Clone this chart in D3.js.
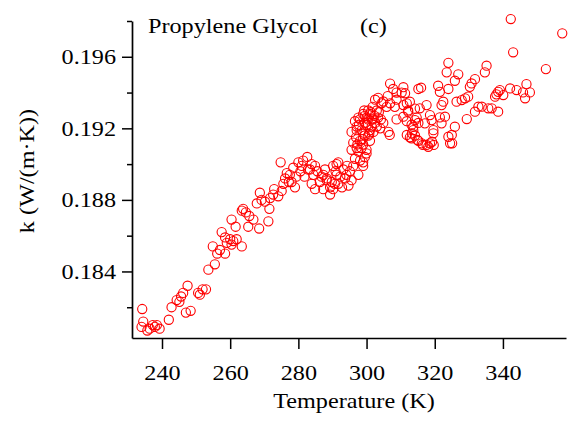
<!DOCTYPE html>
<html><head><meta charset="utf-8">
<script src="https://cdn.jsdelivr.net/npm/d3@7/dist/d3.min.js"></script>
<style>
body{margin:0;background:#fff}
svg{display:block;background:#fff}
</style>
</head><body>
<svg id="chart" width="573" height="423"></svg>
<script>
// ---- data (temperature in K, thermal conductivity in W/(m·K)) ----
const temperature = [
234.2,234.5,234.0,235.7,237.3,237.9,239.3,236.4,238.5,242.0,242.8,244.3,245.1,245.6,246.2,247.5,247.0,248.4,
250.6,251.1,251.9,252.9,253.6,255.5,256.2,254.9,257.0,258.5,
257.5,258.5,260.0,260.9,259.0,261.9,263.4,260.4,260.4,261.6,263.4,263.8,264.6,265.6,265.3,266.8,268.5,271.2,
267.8,268.7,269.2,270.2,271.5,271.7,272.6,272.9,274.1,275.1,274.8,275.6,276.1,276.6,277.5,278.0,279.0,278.5,
280.0,281.0,281.4,282.6,283.9,284.9,283.4,284.4,283.9,284.9,286.3,287.8,288.3,289.3,287.3,290.2,290.7,291.2,
287.3,288.3,289.3,291.7,291.2,290.2,291.7,293.2,293.7,294.7,295.6,295.1,296.1,296.6,299.0,299.0,297.6,296.1,
298.1,297.1,298.1,299.5,301.0,300.0,301.5,302.0,303.0,302.5,303.4,304.9,305.9,306.9,308.8,310.3,310.8,312.2,
311.8,313.2,314.7,314.2,306.4,304.0,304.9,300.5,299.0,301.0,300.0,298.5,299.5,297.6,315.2,314.2,
296.6,297.1,295.6,297.6,299.0,300.5,300.0,301.5,302.5,303.4,303.0,301.0,299.5,297.1,295.6,299.0,300.0,298.1,
304.4,306.2,306.9,307.8,310.8,308.8,308.3,311.8,308.8,312.7,313.7,315.2,315.2,
343.0,342.3,357.4,352.6,324.0,323.5,326.9,325.9,335.2,334.7,331.8,330.8,330.3,324.0,321.0,321.5,316.0,311.3,
312.7,312.2,310.8,314.2,313.7,311.8,313.2,315.6,317.6,318.6,319.1,317.1,319.6,319.6,316.2,317.6,318.6,322.0,
321.5,323.0,322.0,322.5,325.9,325.0,324.5,326.4,327.9,328.9,329.8,329.4,331.8,332.8,333.8,335.7,336.7,338.6,
337.7,338.6,340.1,342.1,344.0,339.1,346.9,347.9,345.9,346.5,338.1,
313.3,314.9,316.5,318.1,319.2,319.7,324.0,325.1,306.8,
297.8,298.6,299.6,300.4,301.2,302.3,298.9,300.8,302.0,296.9,299.3,301.8,297.3,303.6,304.2,
289.8,292.3,294.1,290.9,292.8,294.3,286.8,285.6,282.8,281.8,280.6,279.4,277.2
];
const conductivity = [
0.1819,0.1812,0.1809,0.1807,0.1810,0.1809,0.1808,0.1808,0.1810,0.1813,0.1820,0.1824,0.1823,0.1826,0.1828,0.1832,0.1817,0.1818,
0.1828,0.1827,0.1830,0.1830,0.1841,0.1844,0.1850,0.1854,0.1852,0.1850,
0.1862,0.1859,0.1858,0.1857,0.1856,0.1858,0.1854,0.1855,0.1869,0.1865,0.1874,0.1875,0.1873,0.1871,0.1865,0.1869,0.1864,0.1868,
0.1878,0.1884,0.1880,0.1879,0.1875,0.1881,0.1883,0.1886,0.1882,0.1885,0.1901,0.1889,0.1892,0.1895,0.1894,0.1890,0.1887,0.1898,
0.1901,0.1899,0.1902,0.1904,0.1900,0.1899,0.1897,0.1894,0.1889,0.1886,0.1890,0.1897,0.1892,0.1883,0.1886,0.1886,0.1889,0.1900,
0.1894,0.1891,0.1887,0.1889,0.1894,0.1899,0.1901,0.1897,0.1892,0.1888,0.1891,0.1896,0.1899,0.1903,0.1899,0.1901,0.1907,0.1912,
0.1913,0.1919,0.1925,0.1927,0.1928,0.1922,0.1921,0.1925,0.1930,0.1936,0.1937,0.1935,0.1932,0.1934,0.1936,0.1940,0.1933,0.1930,
0.1924,0.1922,0.1926,0.1931,0.1918,0.1920,0.1923,0.1916,0.1917,0.1913,0.1908,0.1909,0.1904,0.1894,0.1913,0.1916,
0.1924,0.1921,0.1918,0.1926,0.1928,0.1930,0.1926,0.1925,0.1923,0.1926,0.1921,0.1919,0.1916,0.1909,0.1908,0.1911,0.1906,0.1902,
0.1934,0.1938,0.1945,0.1942,0.1943,0.1940,0.1932,0.1934,0.1925,0.1915,0.1919,0.1923,0.1942,
0.19625,0.19811,0.19731,0.19531,0.19566,0.19513,0.19502,0.19466,0.1955,0.19513,0.19475,0.19451,0.19432,0.1942,0.19438,0.19404,0.19427,0.19396,
0.19349,0.19293,0.19265,0.19246,0.19209,0.19163,0.19144,0.19312,0.1933,0.19274,0.19246,0.19228,0.1919,0.19172,0.19116,0.19107,0.19116,0.19228,
0.19261,0.19265,0.1933,0.19349,0.19209,0.19163,0.19116,0.19349,0.19358,0.19368,0.19377,0.19252,0.19293,0.19321,0.19321,0.19312,0.19312,0.19293,
0.19377,0.19404,0.19386,0.19423,0.19414,0.19414,0.19447,0.19401,0.19401,0.19368,0.1939,
0.19172,0.19135,0.19107,0.19097,0.19125,0.19107,0.19153,0.19116,0.19163,
0.1922,0.1919,0.1923,0.1925,0.1929,0.1927,0.1914,0.1917,0.1918,0.1915,0.1930,0.1932,0.1911,0.1929,0.1925,
0.1890,0.1893,0.1894,0.1896,0.1887,0.1899,0.1893,0.1896,0.1897,0.1893,0.1896,0.1893,0.1890
];
const xTickValues = [240, 260, 280, 300, 320, 340];
const yMajorTicks = [0.184, 0.188, 0.192, 0.196];
const yMinorTicks = [0.182, 0.186, 0.190, 0.194, 0.198];
const titleText = "Propylene Glycol";
const panelText = "(c)";
const xLabelText = "Temperature (K)";
const yLabelText = "k (W/(m\u00B7K))";

// ---- drawing ----
const FONT = "'Liberation Serif','Times New Roman',Times,serif";
const FS = 22;
const STRETCH = 1.1;
const svg = d3.select("#chart");
const x = d3.scaleLinear().domain([231.2, 358.5]).range([132, 566]);
const y = d3.scaleLinear().domain([0.18028, 0.198]).range([338, 21]);

function stretch(sel) {
  sel.each(function () {
    const L = this.getComputedTextLength();
    d3.select(this).attr("textLength", L * STRETCH).attr("lengthAdjust", "spacingAndGlyphs");
  });
}

const pts = temperature.map((t, i) => ({ t, k: conductivity[i] }));
svg.append("g")
  .selectAll("circle")
  .data(pts)
  .join("circle")
  .attr("cx", d => x(d.t))
  .attr("cy", d => y(d.k))
  .attr("r", 4.6)
  .attr("fill", "none")
  .attr("stroke", "#ff0000")
  .attr("stroke-width", 1.1);

// x axis
const gx = svg.append("g")
  .attr("transform", "translate(0,338)")
  .call(d3.axisBottom(x).tickValues(xTickValues).tickSize(11).tickSizeOuter(0).tickPadding(15).tickFormat(d3.format("d")));
// y axis major
const gy = svg.append("g")
  .attr("transform", "translate(132,0)")
  .call(d3.axisLeft(y).tickValues(yMajorTicks).tickSize(10).tickSizeOuter(0).tickPadding(6).tickFormat(d3.format(".3f")));
// y axis minor
const gym = svg.append("g")
  .attr("transform", "translate(132,0)")
  .call(d3.axisLeft(y).tickValues(yMinorTicks).tickSize(5).tickSizeOuter(0).tickFormat(""));
gym.select(".domain").remove();

[gx, gy, gym].forEach(g => {
  g.attr("font-family", FONT).attr("font-size", FS);
  g.selectAll("path.domain").attr("stroke", "#000").attr("stroke-width", 1.7);
  g.selectAll(".tick line").attr("stroke", "#000").attr("stroke-width", 1.5);
  g.selectAll(".tick text").attr("fill", "#000");
});
stretch(gx.selectAll(".tick text"));
stretch(gy.selectAll(".tick text"));

// texts
const t1 = svg.append("text").attr("x", 148).attr("y", 33.3)
  .attr("font-family", FONT).attr("font-size", FS).attr("fill", "#000").text(titleText);
const t2 = svg.append("text").attr("x", 360).attr("y", 33.3)
  .attr("font-family", FONT).attr("font-size", FS).attr("fill", "#000").text(panelText);
const t3 = svg.append("text").attr("x", 354).attr("y", 408.3).attr("text-anchor", "middle")
  .attr("font-family", FONT).attr("font-size", FS).attr("fill", "#000").text(xLabelText);
const t4 = svg.append("text").attr("transform", "translate(33.5,171) rotate(-90)").attr("text-anchor", "middle")
  .attr("font-family", FONT).attr("font-size", FS).attr("fill", "#000").text(yLabelText);
stretch(t1); stretch(t2); stretch(t3); stretch(t4);
</script>
</body></html>
